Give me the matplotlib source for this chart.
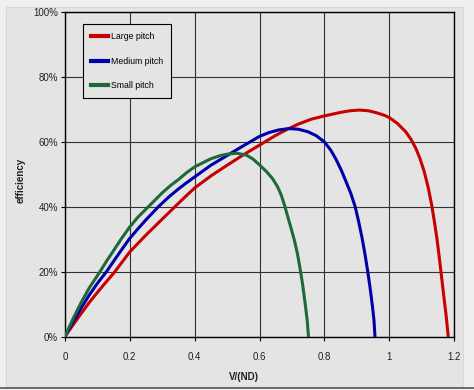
import matplotlib
matplotlib.use("Agg")
import matplotlib.pyplot as plt
from matplotlib.patches import Rectangle

plt.rcParams['font.family'] = ['Liberation Sans', 'DejaVu Sans']

# values (V/(ND), efficiency in %)
large_x = [0, 0.025, 0.05, 0.075, 0.1, 0.125, 0.154, 0.175, 0.2, 0.25, 0.3, 0.339, 0.37,
           0.4, 0.45, 0.5, 0.55, 0.6, 0.65, 0.684, 0.72, 0.76, 0.8, 0.85, 0.88, 0.908,
           0.935, 0.96, 0.985, 1.0, 1.025, 1.051, 1.067, 1.082, 1.095, 1.108, 1.12,
           1.131, 1.14, 1.148, 1.156, 1.163, 1.17, 1.176, 1.182]
large_y = [0, 3.6, 7.1, 10.5, 13.6, 16.6, 20, 22.8, 26.1, 31.3, 36.2, 40, 43,
           45.8, 49.5, 52.8, 56, 59, 62, 63.8, 65.5, 67, 68, 69.1, 69.6, 69.8,
           69.6, 69, 68.2, 67.5, 65.7, 63.1, 60.8, 58, 54.8, 50.8, 46,
           40.5, 35, 29.5, 23, 17, 11, 6, 0]

medium_x = [0, 0.025, 0.05, 0.075, 0.1, 0.128, 0.15, 0.175, 0.2, 0.225, 0.25, 0.288,
            0.32, 0.35, 0.375, 0.4, 0.45, 0.5, 0.54, 0.571, 0.6, 0.63, 0.66, 0.69,
            0.72, 0.75, 0.775, 0.8, 0.82, 0.836, 0.852, 0.867, 0.882, 0.895, 0.906,
            0.916, 0.925, 0.933, 0.941, 0.948, 0.953, 0.956]
medium_y = [0, 4.5, 8.8, 12.8, 16.4, 20, 23.2, 26.8, 30.3, 33.2, 36, 40,
            43, 45.5, 47.4, 49.2, 52.8, 55.8, 58.2, 60, 61.7, 62.9, 63.7, 64.1,
            63.9, 63.1, 61.9, 60, 57.4, 54.6, 51.3, 47.7, 44, 40, 35.3,
            30.5, 25.5, 20.5, 15, 9.5, 5, 0]

small_x = [0, 0.025, 0.05, 0.075, 0.108, 0.13, 0.15, 0.175, 0.2, 0.225, 0.257, 0.28,
           0.3, 0.325, 0.35, 0.375, 0.4, 0.45, 0.48, 0.5, 0.53, 0.56, 0.58, 0.6,
           0.62, 0.64, 0.655, 0.667, 0.677, 0.687, 0.697, 0.708, 0.717, 0.725, 0.733,
           0.741, 0.747, 0.751]
small_y = [0, 5.5, 10.5, 15, 20, 23.5, 26.5, 30.3, 33.8, 36.8, 40, 42.3,
           44.3, 46.5, 48.4, 50.5, 52.3, 54.8, 55.8, 56.2, 56.5, 55.9, 54.7, 52.9,
           51, 48.7, 46.3, 43.6, 40.5, 37, 33.5, 29.5, 25.5, 21, 16,
           10, 5, 0]

x_ticks = [0, 0.2, 0.4, 0.6, 0.8, 1.0, 1.2]
x_labels = ['0', '0.2', '0.4', '0.6', '0.8', '1', '1.2']
y_ticks = [0, 20, 40, 60, 80, 100]
y_labels = ['0%', '20%', '40%', '60%', '80%', '100%']

fig = plt.figure(figsize=(4.74, 3.9), dpi=100)
fig.patch.set_facecolor('#efefef')
# chart area panel
fig.patches.append(Rectangle((0.012, 0.008), 0.965, 0.975, transform=fig.transFigure,
                             facecolor='#e4e4e4', edgecolor='#d8d8d8', lw=0.8, zorder=-10))
fig.add_artist(plt.Line2D([0, 1], [0.006, 0.006], color='#555555', lw=1.2, zorder=-5))

ax = fig.add_axes([0.137, 0.137, 0.821, 0.832])
ax.set_facecolor('#e4e4e4')

ax.plot(large_x, large_y, color='#c80000', lw=2.2, label='Large pitch', zorder=3)
ax.plot(medium_x, medium_y, color='#0000aa', lw=2.2, label='Medium pitch', zorder=3)
ax.plot(small_x, small_y, color='#1d6a38', lw=2.2, label='Small pitch', zorder=3)

ax.set_xlim(0, 1.2)
ax.set_ylim(0, 100)
ax.set_xticks(x_ticks)
ax.set_xticklabels(x_labels)
ax.set_yticks(y_ticks)
ax.set_yticklabels(y_labels)
ax.tick_params(direction='out', length=3, width=0.8, colors='black', labelsize=7,
               labelcolor='#222222')
ax.tick_params(axis='x', pad=8)
ax.tick_params(axis='y', pad=2)
ax.grid(True, color='#333333', lw=0.8)
for s in ax.spines.values():
    s.set_color('black')
    s.set_linewidth(1.0)

ax.set_xlabel('V/(ND)', fontsize=7, fontweight='bold', color='#222222')
ax.xaxis.set_label_coords(0.46, -0.11)
ax.set_ylabel('efficiency', fontsize=7, fontweight='bold', color='#222222')
ax.yaxis.set_label_coords(-0.1, 0.48)

leg = ax.legend(loc='upper left', bbox_to_anchor=(0.046, 0.962), borderaxespad=0,
                fontsize=6.3, frameon=True, fancybox=False, edgecolor='black',
                facecolor='#e4e4e4', framealpha=1, handlelength=2.0,
                handletextpad=0.3, labelspacing=1.75, borderpad=0.9)
leg.get_frame().set_linewidth(0.8)
for line in leg.get_lines():
    line.set_linewidth(3)

fig.savefig('out.png', dpi=100, facecolor=fig.get_facecolor())
